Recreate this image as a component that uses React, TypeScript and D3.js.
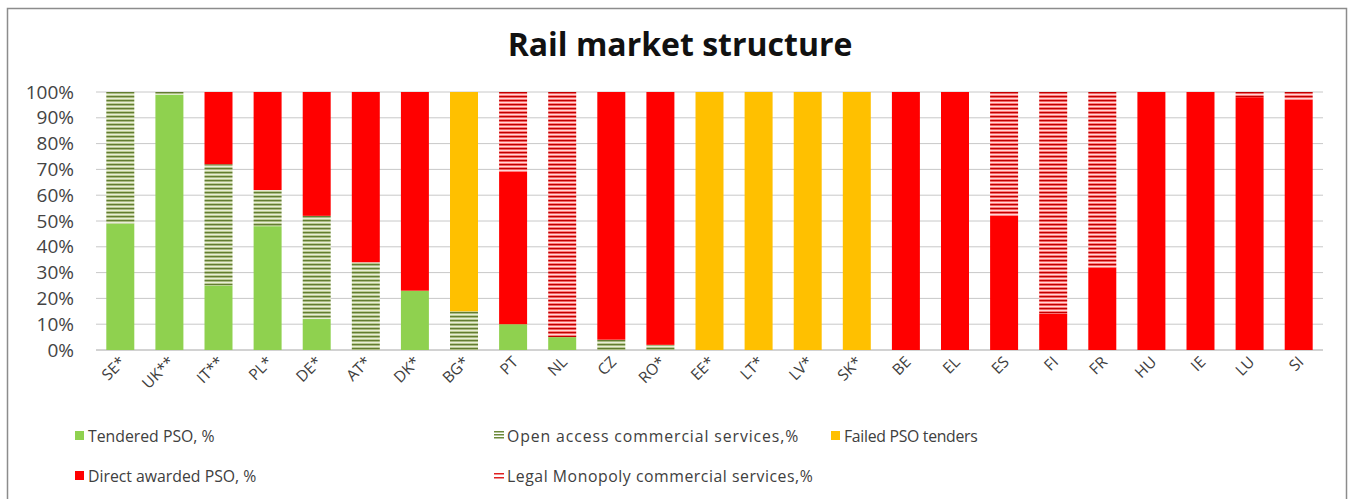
import React from "react";
import * as d3 from "d3";

const countries = ["SE*", "UK**", "IT**", "PL*", "DE*", "AT*", "DK*", "BG*", "PT", "NL", "CZ", "RO*", "EE*", "LT*", "LV*", "SK*", "BE", "EL", "ES", "FI", "FR", "HU", "IE", "LU", "SI"];
const tendered = [49, 99, 25, 48, 12, 0, 23, 0, 10, 5, 0, 0, 0, 0, 0, 0, 0, 0, 0, 0, 0, 0, 0, 0, 0];
const openAccess = [51, 1, 47, 14, 40, 34, 0, 15, 0, 0, 4, 2, 0, 0, 0, 0, 0, 0, 0, 0, 0, 0, 0, 0, 0];
const failed = [0, 0, 0, 0, 0, 0, 0, 85, 0, 0, 0, 0, 100, 100, 100, 100, 0, 0, 0, 0, 0, 0, 0, 0, 0];
const direct = [0, 0, 28, 38, 48, 66, 77, 0, 59, 0, 96, 98, 0, 0, 0, 0, 100, 100, 52, 14, 32, 100, 100, 98, 97];
const legal = [0, 0, 0, 0, 0, 0, 0, 0, 31, 95, 0, 0, 0, 0, 0, 0, 0, 0, 48, 86, 68, 0, 0, 2, 3];
const yTicks = [0, 10, 20, 30, 40, 50, 60, 70, 80, 90, 100];

const seriesNames = ["Tendered PSO, %", "Open access commercial services,%", "Failed PSO tenders", "Direct awarded PSO, %", "Legal Monopoly commercial services,%"];
const seriesFills = ["#8fd14f", "url(#hatchGreen)", "#ffc000", "#ff0000", "url(#hatchRed)"];

export default function App() {
  const W = 1352, H = 499;
  const x = d3.scaleBand().domain(countries).range([96, 1323]).paddingInner(0.43).paddingOuter(0.21);
  const y = d3.scaleLinear().domain([0, 100]).range([350, 92]);
  const rows = countries.map((c, i) => ({ c, s0: tendered[i], s1: openAccess[i], s2: failed[i], s3: direct[i], s4: legal[i] }));
  const stack = d3.stack<any>().keys(["s0", "s1", "s2", "s3", "s4"])(rows);
  const font = "'Open Sans', 'DejaVu Sans', sans-serif";

  const legend = [
    { i: 0, x: 75, y: 436, ls: 0 },
    { i: 1, x: 494, y: 436, ls: 0.9 },
    { i: 2, x: 831, y: 436, ls: -0.3 },
    { i: 3, x: 75, y: 476, ls: 0 },
    { i: 4, x: 494, y: 476, ls: 0.55 },
  ];

  return (
    <div style={{ position: "absolute", left: 0, top: 0 }}>
      <svg width={W} height={H} style={{ display: "block", background: "#fff" }}>
        <defs>
          <pattern id="hatchGreen" width="6" height="4" patternUnits="userSpaceOnUse">
            <rect width="6" height="4" fill="#bccb94" />
            <rect y="0" width="6" height="1.2" fill="#627d32" />
            <rect y="2.2" width="6" height="0.8" fill="#f4f7ea" />
          </pattern>
          <pattern id="hatchRed" width="6" height="4" patternUnits="userSpaceOnUse">
            <rect width="6" height="4" fill="#ff7c7c" />
            <rect y="0" width="6" height="1.2" fill="#c00000" />
            <rect y="2.2" width="6" height="0.8" fill="#fff0f0" />
          </pattern>
        </defs>
        <rect x={7.5} y={8.5} width={1339} height={500} fill="#fff" stroke="#8c8c8c" strokeWidth={1.5} />
        <text x={680} y={56} textAnchor="middle" fontFamily={font} fontWeight="bold" fontSize={32} fill="#111">Rail market structure</text>
        {yTicks.map((t) => (
          <g key={t}>
            <line x1={96} x2={1323} y1={y(t)} y2={y(t)} stroke={t === 0 ? "#a6a6a6" : "#c8c8c8"} strokeWidth={1} />
            <text x={74} y={y(t) + 6.5} textAnchor="end" fontFamily={font} fontSize={19} fill="#444">{t}%</text>
          </g>
        ))}
        {stack.map((layer, si) => (
          <g key={si} fill={seriesFills[si]}>
            {layer.map((d, i) => {
              const h = y(d[0]) - y(d[1]);
              if (h <= 0) return null;
              return <rect key={i} x={x(countries[i])} y={y(d[1])} width={x.bandwidth()} height={h} />;
            })}
          </g>
        ))}
        {countries.map((c) => {
          const cx = (x(c) as number) + x.bandwidth() / 2 + 6;
          return (
            <text key={c} transform={`translate(${cx},${363}) rotate(-45)`} textAnchor="end" fontFamily={font} fontSize={15.5} fill="#404040">{c}</text>
          );
        })}
        {legend.map((l) => (
          <g key={l.i}>
            {l.i === 1 || l.i === 4 ? (
              <g>
                {(l.i === 1 ? [0, 3, 6] : [2, 6]).map((o) => (
                  <rect key={o} x={l.x} y={l.y - 5 + o} width={10} height={1.5} fill={l.i === 1 ? "#6d8a3a" : "#e02020"} />
                ))}
              </g>
            ) : (
              <rect x={l.x} y={l.y - 5} width={9} height={9} fill={seriesFills[l.i]} />
            )}
            <text x={l.x + 13} y={l.y + 5.5} fontFamily={font} fontSize={15.8} letterSpacing={l.ls} fill="#404040">{seriesNames[l.i]}</text>
          </g>
        ))}
      </svg>
    </div>
  );
}
